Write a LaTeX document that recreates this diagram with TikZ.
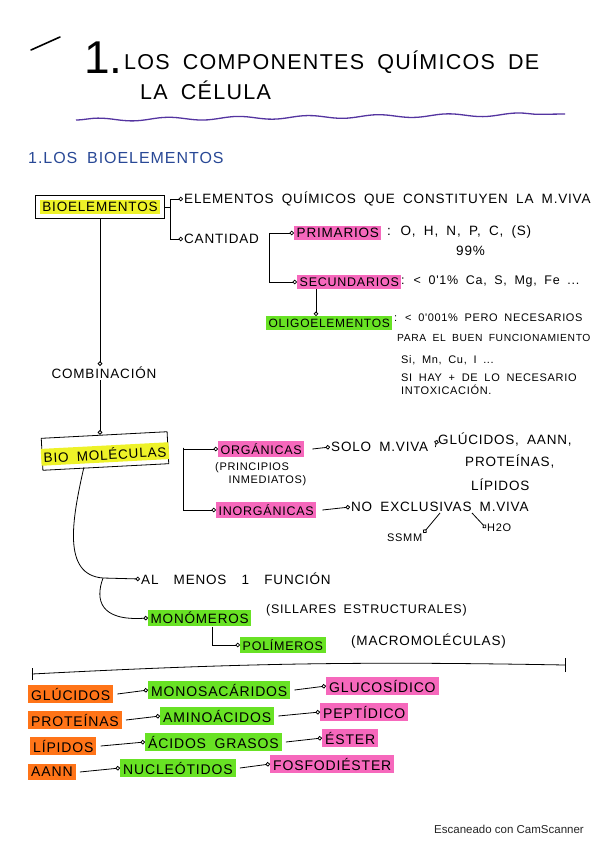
\documentclass[tikz,border=0pt]{standalone}
\usepackage{fontspec}
\setmainfont{Liberation Sans}
\newfontfamily\handfont[WordSpace=1.8,LetterSpace=6]{Liberation Sans}
\usetikzlibrary{arrows.meta,fit,decorations.pathmorphing}

\definecolor{hlyellow}{RGB}{238,242,40}
\definecolor{hlpink}{RGB}{246,104,188}
\definecolor{hlgreen}{RGB}{104,226,36}
\definecolor{hlorange}{RGB}{255,116,24}
\definecolor{inkblue}{RGB}{40,72,150}
\definecolor{inkpurple}{RGB}{84,52,160}

\tikzset{
  bigtxt/.style={font=\handfont\fontsize{13.5}{16}\selectfont},
  txt/.style={anchor=west,inner sep=1pt,bigtxt},
  side/.style={txt,font=\handfont\fontsize{12.5}{15}\selectfont},
  small/.style={txt,font=\handfont\fontsize{11}{13.5}\selectfont},
  hilite/.style={txt,inner sep=2.5pt,font=\handfont\fontsize{12.5}{15}\selectfont},
  pinkhl/.style={hilite,fill=hlpink},
  greenhl/.style={hilite,fill=hlgreen},
  orangehl/.style={hilite,fill=hlorange},
  rowtxt/.style={font=\handfont\fontsize{14}{16}\selectfont,inner sep=3pt},
  link/.style={line width=0.8pt,-{Circle[open,length=4.5pt]}},
  ink/.style={line width=0.8pt},
}

\begin{document}
\begin{tikzpicture}[x=1pt,y=-1pt]
\useasboundingbox (0,0) rectangle (599,848);
\fill[white] (0,0) rectangle (599,848);

% title
\draw[line width=1.6pt,line cap=round] (31,50) -- (60,37);
\node[anchor=base west,inner sep=0pt,font=\fontsize{46}{46}\selectfont] (tnum) at (84,74) {1.};
\node[anchor=base west,inner sep=0pt,font=\handfont\fontsize{21.5}{24}\selectfont] (title1) at (124,70) {LOS COMPONENTES QUÍMICOS DE};
\node[anchor=base west,inner sep=0pt,font=\handfont\fontsize{21.5}{24}\selectfont] (title2) at (140,100) {LA CÉLULA};
\draw[inkpurple,line width=1.3pt,decorate,decoration={snake,amplitude=1.6pt,segment length=70pt}] (76,120) -- (565,114);

% section
\node[anchor=base west,inner sep=0pt,text=inkblue,font=\handfont\fontsize{16}{19}\selectfont] (sec) at (28,163) {1.LOS BIOELEMENTOS};

% bioelementos
\node[hilite,bigtxt,anchor=center,fill=hlyellow] (bioel) at (100,207) {BIOELEMENTOS};
\node[draw,ink,fit=(bioel),inner xsep=4pt,inner ysep=4pt] (bioelbox) {};
\node[txt] (elem) at (183,199) {ELEMENTOS QUÍMICOS QUE CONSTITUYEN LA M.VIVA};
\node[txt] (cant) at (183,239) {CANTIDAD};
\coordinate (br1) at (170,207);
\draw[ink] (bioelbox.east) -- (br1);
\draw[link] (br1) |- (elem.west);
\draw[link] (br1) |- (cant.west);

% primarios / secundarios
\node[pinkhl,bigtxt] (prim) at (294,233) {PRIMARIOS};
\node[txt] (primtxt) at (386,232) {: O, H, N, P, C, (S)};
\node[txt] (pct) at (455,251) {99\%};
\node[pinkhl] (secu) at (297,282) {SECUNDARIOS};
\node[side] (secutxt) at (400,281) {: < 0'1\% Ca, S, Mg, Fe ...};
\draw[link] ([xshift=9pt]cant.east) |- (prim.west);
\draw[link] ([xshift=9pt]cant.east) |- (secu.west);

% oligoelementos
\node[greenhl,font=\handfont\fontsize{12}{14}\selectfont] (oligo) at (266,323) {OLIGOELEMENTOS};
\coordinate (arrtop) at ([xshift=19pt]secu.south west);
\draw[link] (arrtop) -- (arrtop |- oligo.north);
\node[small] (oligtxt1) at (393,318) {: < 0'001\% PERO NECESARIOS};
\node[small,font=\handfont\fontsize{10.3}{13}\selectfont] (oligtxt2) at (396,338) {PARA EL BUEN FUNCIONAMIENTO};
\node[small] (oligtxt3) at (400,360) {Si, Mn, Cu, I ...};
\node[small,align=left] (oligtxt4) at (400,384) {SI HAY + DE LO NECESARIO\\INTOXICACIÓN.};

% combinacion
\node[txt,anchor=center] (comb) at (104,373) {COMBINACIÓN};
\draw[link] (bioelbox.south) -- (bioelbox.south |- comb.north);

% biomoleculas
\node[draw,ink,rotate=3,minimum width=126pt,minimum height=32pt] (biomolbox) at (105,451) {};
\node[hilite,bigtxt,anchor=center,fill=hlyellow,rotate=3] (biomol) at (105,454) {BIO MOLÉCULAS};
\draw[link] (bioelbox.south |- comb.south) -- (bioelbox.south |- biomolbox.north);

% organicas / inorganicas
\node[pinkhl] (org) at (218,449) {ORGÁNICAS};
\node[small,align=left] (princ) at (214,474) {(PRINCIPIOS\\\ \ INMEDIATOS)};
\node[pinkhl] (inorg) at (216,510) {INORGÁNICAS};
\draw[link] ([xshift=15pt]biomolbox.east) |- (org.west);
\draw[link] ([xshift=15pt]biomolbox.east) |- (inorg.west);

\node[txt] (solo) at (330,447) {SOLO M.VIVA};
\draw[link] ([xshift=8pt]org.east) -- (solo.west);
\node[txt] (gluc) at (437,440) {GLÚCIDOS, AANN,};
\node[txt] (prot) at (464,462) {PROTEÍNAS,};
\node[txt] (lip) at (470,485) {LÍPIDOS};
\draw[link] ([xshift=6pt]solo.east) -- (gluc.west);

\node[txt] (noex) at (350,507) {NO EXCLUSIVAS M.VIVA};
\draw[link] ([xshift=6pt]inorg.east) -- (noex.west);
\node[small] (ssmm) at (386,538) {SSMM};
\node[small] (agua) at (486,528) {H2O};
\coordinate (exA) at ([xshift=90pt]noex.south west);
\coordinate (exB) at ([xshift=122pt]noex.south west);
\draw[link] (exA) -- (ssmm.north east);
\draw[link] (exB) -- (agua.west);

% funcion, monomeros, polimeros
\node[txt] (func) at (140,579) {AL\hspace{7pt} MENOS\hspace{7pt} 1\hspace{7pt} FUNCIÓN};
\node[greenhl,bigtxt] (mono) at (148,618) {MONÓMEROS};
\node[side] (monotxt) at (265,610) {(SILLARES ESTRUCTURALES)};
\node[greenhl] (poli) at (240,645) {POLÍMEROS};
\node[txt] (politxt) at (350,641) {(MACROMOLÉCULAS)};
\coordinate (split) at (103,578);
\draw[link] ([xshift=-22pt]biomolbox.south) .. controls (72,520) and (62,575) .. (split) -- (func.west);
\draw[link] (split) .. controls (95,600) and (100,621) .. (mono.west);
\draw[link] ([xshift=64pt]mono.south west) |- (poli.west);

% separator
\coordinate (sepL) at (32,674);
\coordinate (sepR) at (565,665);
\draw[ink] (sepL) to[bend left=2] (sepR);
\draw[ink] ([yshift=-6pt]sepL) -- ([yshift=6pt]sepL);
\draw[ink] ([yshift=-7pt]sepR) -- ([yshift=7pt]sepR);

% monomers and bonds
\foreach \n/\y/\a/\xa/\b/\xb/\c/\xc in {
  1/694/GLÚCIDOS/28/MONOSACÁRIDOS/148/GLUCOSÍDICO/326,
  2/720/PROTEÍNAS/28/AMINOÁCIDOS/160/PEPTÍDICO/320,
  3/746/LÍPIDOS/30/ÁCIDOS GRASOS/145/ÉSTER/322,
  4/772/AANN/28/NUCLEÓTIDOS/120/FOSFODIÉSTER/270}{
  \node[orangehl,rowtxt] (mol\n) at (\xa,\y) {\a};
  \node[greenhl,rowtxt] (unit\n) at (\xb,\y-4) {\b};
  \node[pinkhl,rowtxt] (bond\n) at (\xc,\y-8) {\c};
  \draw[link] ([xshift=4pt]mol\n.east) -- (unit\n.west);
  \draw[link] ([xshift=4pt]unit\n.east) -- (bond\n.west);
}

\node[anchor=east,inner sep=0pt,font=\fontsize{11.5}{13}\selectfont,text=black!85] (scan) at (584,829) {Escaneado con CamScanner};

\end{tikzpicture}
\end{document}
